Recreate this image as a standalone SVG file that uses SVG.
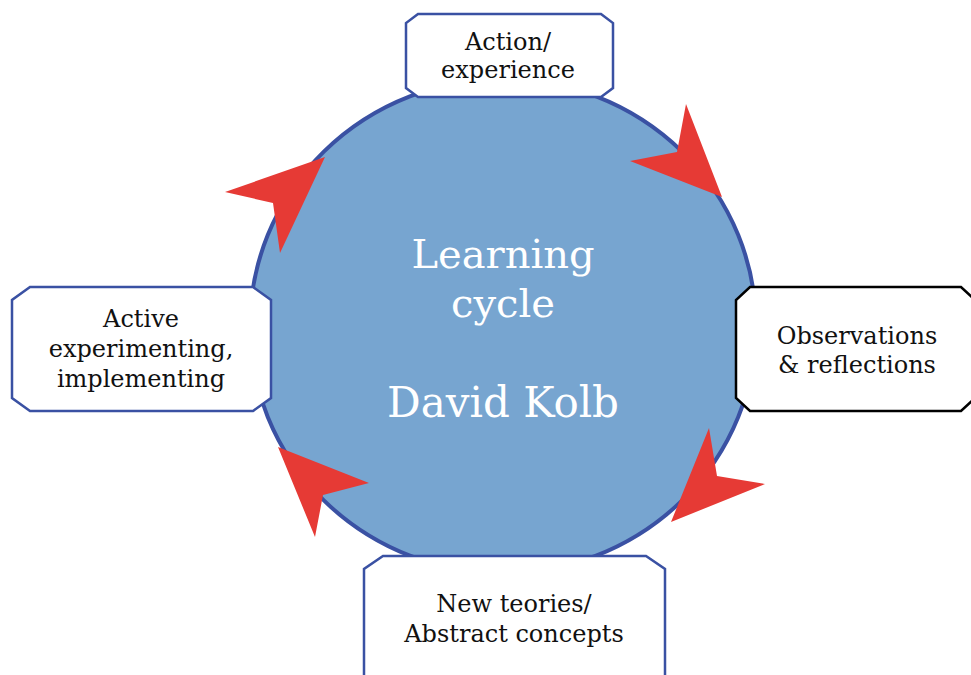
<svg xmlns="http://www.w3.org/2000/svg" width="971" height="675" viewBox="0 0 971 675">
<style>
.box{fill:#ffffff;stroke:#3a51a3;stroke-width:2.5}
.boxk{fill:#ffffff;stroke:#000000;stroke-width:2.5}
.lbl{font-family:"DejaVu Serif","Liberation Serif",serif;font-size:24px;fill:#111111;text-anchor:middle}
.big{font-family:"DejaVu Serif","Liberation Serif",serif;font-size:40px;fill:#ffffff;text-anchor:middle}
.arr{fill:#e63a35}
</style>
<rect width="971" height="675" fill="#ffffff"/>
<g id="cycle">
<ellipse cx="503" cy="326" rx="253" ry="247" fill="#77a5d0" stroke="#3a51a3" stroke-width="4"/>
<text class="big" x="503" y="268">Learning</text>
<text class="big" x="503" y="317">cycle</text>
<text class="big" x="503" y="417" style="font-size:42px">David Kolb</text>
</g>
<g id="connectors">
<polygon class="arr" points="722,197 630,161 677,152 686,104"/>
<polygon class="arr" points="325,157 225,192 273,203 280,253"/>
<polygon class="arr" points="278,447 369,483 323,495 315,537"/>
<polygon class="arr" points="671,522 709,428 717,476 765,484"/>
</g>
<g id="action">
<polygon class="box" points="418,14 601,14 613,23 613,88 601,97 418,97 406,88 406,23"/>
<text class="lbl" x="508" y="50">Action/</text>
<text class="lbl" x="508" y="78">experience</text>
</g>
<g id="observations">
<polygon class="boxk" points="750,287 961,287 975,300 975,398 961,411 750,411 736,398 736,300"/>
<text class="lbl" x="857" y="344">Observations</text>
<text class="lbl" x="857" y="373">&amp; reflections</text>
</g>
<g id="theories">
<polygon class="box" points="383,556 646,556 665,569 665,700 364,700 364,569"/>
<text class="lbl" x="514" y="612">New teories/</text>
<text class="lbl" x="514" y="642">Abstract concepts</text>
</g>
<g id="active">
<polygon class="box" points="30,287 253,287 271,300 271,398 253,411 30,411 12,398 12,300"/>
<text class="lbl" x="141" y="327">Active</text>
<text class="lbl" x="141" y="357">experimenting,</text>
<text class="lbl" x="141" y="387">implementing</text>
</g>
</svg>
